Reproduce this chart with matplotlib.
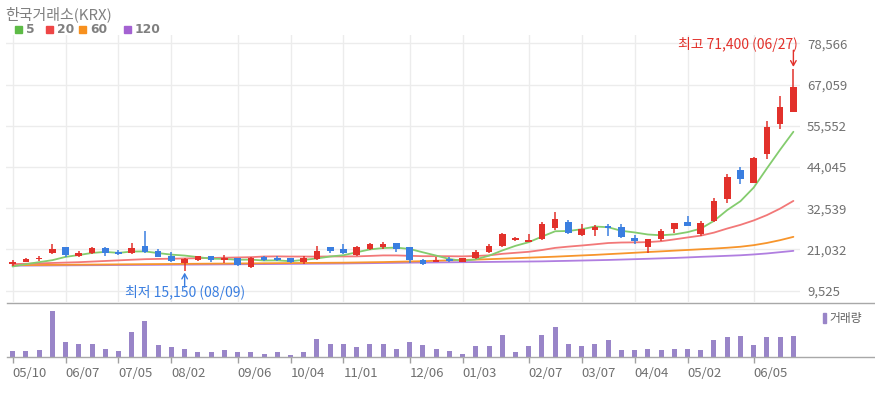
import matplotlib
matplotlib.use('Agg')
import matplotlib.pyplot as plt
import numpy as np
import pandas as pd
from matplotlib.patches import Rectangle
from matplotlib.lines import Line2D

plt.rcParams['font.family'] = ['Noto Sans CJK KR', 'DejaVu Sans']

# ---------------- data (weekly) ----------------
opens = [16840, 17570, 18320, 19920, 21590, 19240, 20000, 21310, 20360, 20000,
         21950, 20560, 19240, 17120, 17960, 19160, 18130, 18520, 16170, 18970,
         18690, 18520, 17490, 18240, 21590, 21030, 19520, 21200, 21760, 22710,
         21590, 18040, 17570, 18320, 17570, 18520, 20360, 22040, 23550, 23160,
         23910, 26900, 28740, 25030, 26340, 27540, 27180, 24100, 21760, 23910,
         26700, 28570, 25220, 29020, 35000, 43180, 39630, 47650, 55950, 59460]
highs = [18130, 18520, 19080, 22430, 21700, 20560, 21670, 21670, 20750, 22710,
         26140, 21120, 20190, 18520, 19300, 19240, 19440, 18690, 18800, 19240,
         19160, 18690, 19160, 22040, 21760, 22430, 22040, 22880, 23160, 22800,
         21700, 18320, 18970, 18970, 18600, 20840, 22430, 25500, 24470, 25220,
         28570, 31530, 29130, 28020, 27820, 28020, 28020, 25030, 23900, 26700,
         28400, 30330, 29020, 35280, 41980, 44100, 46900, 56950, 63850, 71400]
lows = [16280, 17400, 17760, 19640, 18800, 18880, 19640, 19240, 19440, 19800,
        20000, 18800, 17570, 15150, 17820, 17570, 17290, 16450, 15890, 17760,
        17760, 17120, 16930, 18040, 19920, 19720, 19160, 20840, 21200, 20280,
        17120, 16650, 17500, 17570, 17500, 18240, 20080, 21760, 23350, 22990,
        23630, 26510, 25310, 24830, 24830, 24830, 24100, 22430, 20000, 23430,
        25500, 27460, 24750, 28660, 34050, 39270, 39470, 46170, 54550, 59400]
closes = [17400, 18410, 18520, 21030, 19440, 20000, 21310, 20000, 19640, 21310,
          20190, 18970, 17850, 18320, 19160, 17960, 18690, 16650, 18520, 17960,
          18130, 17490, 18520, 20560, 20640, 19920, 21590, 22510, 22510, 21200,
          18040, 16930, 17960, 17760, 18520, 20190, 22040, 25220, 24270, 23550,
          28020, 29500, 25590, 26700, 27340, 27070, 24470, 23350, 23830, 26230,
          28290, 27620, 28290, 34610, 41310, 40670, 46620, 55110, 60690, 66280]
volumes = [60000, 60000, 73000, 460000, 147000, 133000, 133000, 83000, 60000, 247000,
           360000, 123000, 97000, 83000, 47000, 47000, 73000, 47000, 47000, 33000,
           47000, 23000, 47000, 183000, 133000, 133000, 97000, 133000, 133000, 83000,
           147000, 123000, 83000, 57000, 33000, 110000, 110000, 223000, 47000, 110000,
           223000, 297000, 133000, 110000, 133000, 173000, 73000, 73000, 83000, 73000,
           83000, 83000, 73000, 173000, 197000, 210000, 123000, 197000, 197000, 210000]

# moving averages before a full window is available
ma5_lead = [16280, 16930, 17490, 18040]
ma20_lead = [16930, 17040, 17150, 17260, 17370, 17480, 17650, 17820, 17990, 18160,
             18320, 18390, 18450, 18520, 18590, 18660, 18730, 18800, 18880]
ma60 = [16650, 16675, 16700, 16730, 16760, 16790, 16815, 16840, 16870, 16900,
        16930, 16950, 16980, 17010, 17040, 17070, 17090, 17120, 17150, 17180,
        17210, 17230, 17260, 17290, 17320, 17345, 17400, 17460, 17510, 17600,
        17680, 17760, 17880, 17990, 18100, 18210, 18320, 18460, 18600, 18740,
        18880, 19020, 19190, 19360, 19520, 19720, 19910, 20110, 20310, 20500,
        20700, 20890, 21090, 21280, 21510, 21790, 22230, 22850, 23630, 24550]
ma120 = [16510, 16530, 16550, 16570, 16600, 16620, 16640, 16660, 16690, 16710,
         16730, 16750, 16780, 16800, 16820, 16840, 16870, 16900, 16930, 16950,
         16980, 17010, 17040, 17070, 17090, 17120, 17170, 17210, 17260, 17300,
         17350, 17380, 17410, 17450, 17480, 17510, 17550, 17590, 17630, 17670,
         17710, 17790, 17860, 17940, 18020, 18100, 18210, 18320, 18430, 18550,
         18660, 18810, 18970, 19110, 19260, 19410, 19640, 19920, 20280, 20640]

tick_weeks = [0, 4, 8, 12, 17, 21, 25, 30, 34, 39, 43, 47, 51, 56]
tick_labels = ['05/10', '06/07', '07/05', '08/02', '09/06', '10/04', '11/01',
               '12/06', '01/03', '02/07', '03/07', '04/04', '05/02', '06/05']
price_ticks = [9525, 21032, 32539, 44045, 55552, 67059, 78566]
high_date = '06/27'
low_date = '08/09'
ma_names = ['5', '20', '60', '120']

# ---------------- styling ----------------
RED = '#e2312b'
BLUE = '#3a7ee0'
MA_COLORS = ['#84cc6e', '#f27878', '#f7952c', '#b07ee0']
LEG_COLORS = ['#5dbb46', '#ee4646', '#f7901e', '#a462d2']
VOL_COLOR = '#9985c8'
GRID = '#ececec'
TXT = '#707070'

W, H = 875, 397
fig = plt.figure(figsize=(W / 100, H / 100), dpi=100)


def fx(px):
    return px / W


def fy(py):
    return 1 - py / H


ax = fig.add_axes([fx(6), fy(302), fx(794), 267 / H])
axv = fig.add_axes([fx(6), fy(357), fx(794), 52 / H])

n = len(closes)
idx = np.arange(n)
o = np.array(opens, float)
c = np.array(closes, float)
hi = np.array(highs, float)
lo = np.array(lows, float)

ma5 = pd.Series(c).rolling(5).mean().to_numpy()
ma5[:4] = ma5_lead
ma20 = pd.Series(c).rolling(20).mean().to_numpy()
ma20[:19] = ma20_lead

ax.set_xlim(-0.5, n - 0.5)
ax.set_ylim(6370, 80880)

# grid
for p in price_ticks:
    ax.axhline(p, color=GRID, lw=1, zorder=0)
for t in tick_weeks:
    ax.axvline(t, color=GRID, lw=1, zorder=0)

# moving averages
for series, col in zip([ma120, ma60, ma20, ma5], MA_COLORS[::-1]):
    ax.plot(idx, series, color=col, lw=1.3, zorder=2, solid_capstyle='round')

# candles
up = c >= o
cols = np.where(up, RED, BLUE)
ax.vlines(idx, lo, hi, colors=cols, lw=1.1, zorder=3)
body_bottom = np.minimum(o, c)
body_h = np.maximum(np.abs(c - o), 300)
ax.bar(idx, body_h, bottom=body_bottom, width=0.5, color=cols, zorder=4, linewidth=0)

for s in ax.spines.values():
    s.set_visible(False)
ax.yaxis.tick_right()
ax.set_yticks(price_ticks)
ax.set_yticklabels([f'{p:,}' for p in price_ticks], color=TXT, fontsize=9.5)
ax.tick_params(axis='y', length=0, pad=5)
ax.set_xticks([])

# annotations: high / low
imax = int(np.argmax(hi))
imin = int(np.argmin(lo))
ax.annotate('', xy=(imax, hi[imax]), xytext=(0, 13.5), textcoords='offset points',
            arrowprops=dict(arrowstyle='->,head_length=0.35,head_width=0.2', color=RED,
                            lw=1, shrinkA=0, shrinkB=1.5), zorder=6)
ax.annotate(f'최고 {int(hi[imax]):,} ({high_date})', xy=(imax, hi[imax]),
            xytext=(3.5, 17.8), textcoords='offset points', ha='right', va='center',
            color=RED, fontsize=10, zorder=6)
ax.annotate('', xy=(imin, lo[imin]), xytext=(0, -12), textcoords='offset points',
            arrowprops=dict(arrowstyle='->,head_length=0.35,head_width=0.2', color=BLUE,
                            lw=1, shrinkA=0, shrinkB=1.5), zorder=6)
ax.annotate(f'최저 {int(lo[imin]):,} ({low_date})', xy=(imin, lo[imin]),
            xytext=(0.5, -16), textcoords='offset points', ha='center', va='center',
            color=BLUE, fontsize=10, zorder=6)

# volume panel
axv.set_xlim(-0.5, n - 0.5)
axv.set_ylim(0, 520000)
axv.bar(idx, volumes, width=0.38, color=VOL_COLOR, linewidth=0)
for s in axv.spines.values():
    s.set_visible(False)
axv.set_yticks([])
axv.set_xticks(tick_weeks)
axv.set_xticklabels(tick_labels, color=TXT, fontsize=9.5, ha='left')
axv.tick_params(axis='x', length=4, width=1, color='#a0a0a0', pad=3)
for lab in axv.get_xticklabels():
    lab.set_horizontalalignment('left')
    lab.set_x(lab.get_position()[0])

# separator lines
fig.add_artist(Line2D([fx(7), 1], [fy(302.5)] * 2, color='#a8a8a8', lw=1))
fig.add_artist(Line2D([fx(7), 1], [fy(357)] * 2, color='#a8a8a8', lw=1))

# title and legend
fig.text(fx(5), fy(14), '한국거래소(KRX)', color='#808080', fontsize=10.8, va='center', ha='left')
leg_x = [15, 46, 79, 124]
for lx, name, col in zip(leg_x, ma_names, LEG_COLORS):
    fig.add_artist(Rectangle((fx(lx), fy(32.5)), fx(6.8), 6.8 / H, color=col,
                             transform=fig.transFigure))
    fig.text(fx(lx + 11), fy(29.3), name, color='#808080', fontsize=8.8,
             fontweight='bold', va='center', ha='left', family='DejaVu Sans')

# volume legend
fig.add_artist(Rectangle((fx(822.7), fy(323)), fx(3.3), 10 / H, color=VOL_COLOR,
                         transform=fig.transFigure))
fig.text(fx(829), fy(318.3), '거래량', color='#606060', fontsize=8.5, va='center', ha='left')

fig.savefig('out.png', dpi=100)
